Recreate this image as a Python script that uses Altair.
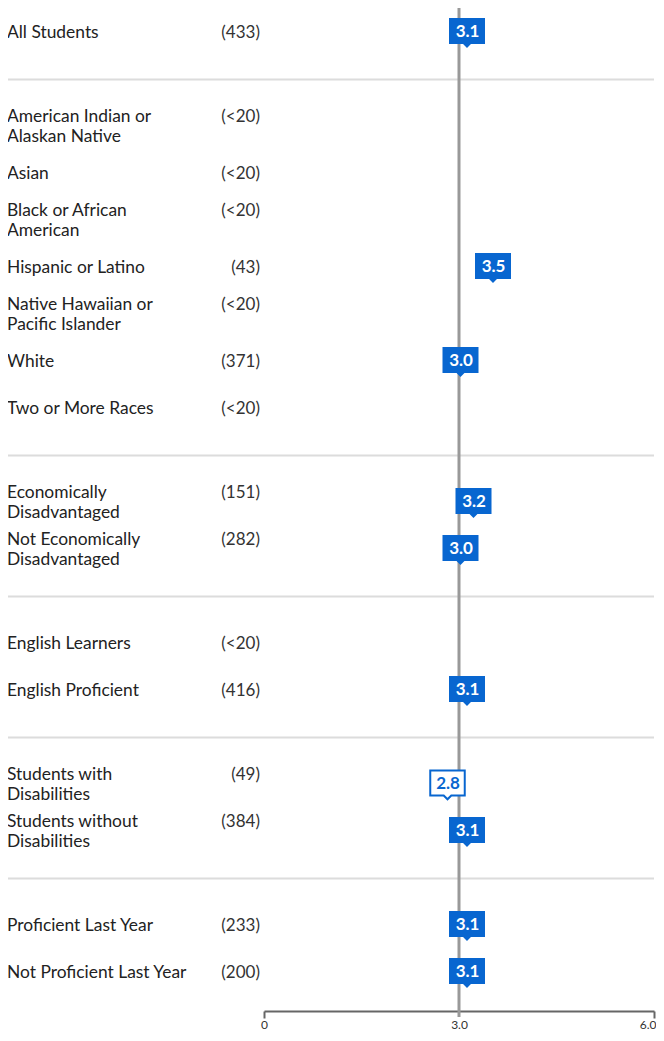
import altair as alt
import pandas as pd

# ---- data ----
labels = [
    "All Students",
    "American Indian or\nAlaskan Native",
    "Asian",
    "Black or African\nAmerican",
    "Hispanic or Latino",
    "Native Hawaiian or\nPacific Islander",
    "White",
    "Two or More Races",
    "Economically\nDisadvantaged",
    "Not Economically\nDisadvantaged",
    "English Learners",
    "English Proficient",
    "Students with\nDisabilities",
    "Students without\nDisabilities",
    "Proficient Last Year",
    "Not Proficient Last Year",
]
counts = ["433", "<20", "<20", "<20", "43", "<20", "371", "<20",
          "151", "282", "<20", "416", "49", "384", "233", "200"]
scores = [3.1, None, None, None, 3.5, None, 3.0, None,
          3.2, 3.0, None, 3.1, 2.8, 3.1, 3.1, 3.1]
outlined = [False, False, False, False, False, False, False, False,
            False, False, False, False, True, False, False, False]
group_sizes = [1, 7, 2, 2, 2, 2]
reference_value = [3.0]
axis_values = [0, 3, 6]

# ---- build row layout (groups separated by a gap row holding a rule) ----
rows, sep_rows = [], []
idx = 0
for gi, n in enumerate(group_sizes):
    if gi > 0:
        sep_rows.append(idx)
        idx += 1
    for _ in range(n):
        rows.append(idx)
        idx += 1

df = pd.DataFrame({
    "label": labels,
    "count_text": ["(" + c + ")" for c in counts],
    "nlines": [l.count("\n") + 1 for l in labels],
    "score": scores,
    "outlined": outlined,
    "row": rows,
})
df_scores = df.dropna(subset=["score"])
df_filled = df_scores[~df_scores["outlined"]]
df_out = df_scores[df_scores["outlined"]]

W, H = 390, 1003
ROW_PX = 47.0
LINE_H = 20
BLUE = "#0866d0"
FONT = "Lato"

yscale = alt.Scale(domain=[-0.4894, 20.851], reverse=True, nice=False, zero=False)
Y = alt.Y("row:Q", scale=yscale, axis=None)
YT = alt.Y("yt:Q", scale=yscale, axis=None)

xaxis = alt.Axis(
    values=axis_values, title=None, grid=False,
    domainColor="#666", domainWidth=2,
    tickColor="#666", tickWidth=2, tickSize=7,
    tickOpacity={"condition": {"test": "datum.value == 3", "value": 0}, "value": 1},
    labelFont=FONT, labelFontSize=12, labelColor="#333", labelPadding=1,
    labelFlush=False,
    labelAlign={"condition": {"test": "datum.value == 6", "value": "right"}, "value": "center"},
    labelOffset={"condition": {"test": "datum.value == 6", "value": 2}, "value": 0},
    labelExpr="datum.value == 0 ? '0' : format(datum.value, '.1f')",
)
X = alt.X("score:Q", scale=alt.Scale(domain=[0, 6], nice=False, zero=False), axis=xaxis)

# text blocks: first line sits half a block above the row centre
text_base = alt.Chart(df).transform_calculate(
    yt=f"datum.row - (datum.nlines - 1) * {LINE_H / 2 / ROW_PX}"
)

separators = alt.Chart(pd.DataFrame({"row": sep_rows})).mark_rule(
    color="#dcdcdc", strokeWidth=2, yOffset=1.5
).encode(y=Y, x=alt.value(-257), x2=alt.value(W))

ref_line = alt.Chart(pd.DataFrame({"score": reference_value})).mark_rule(
    color="#999999", strokeWidth=3
).encode(x=X, y=alt.value(0), y2=alt.value(H + 6))

label_text = text_base.mark_text(
    align="left", baseline="middle", font=FONT, fontSize=17.4, color="#222",
    lineBreak="\n", lineHeight=LINE_H, yOffset=1.5,
).encode(x=alt.value(-257), y=YT, text="label:N")

count_text = text_base.mark_text(
    align="right", baseline="middle", font=FONT, fontSize=17, color="#333",
    yOffset=1.5,
).encode(x=alt.value(-4), y=YT, text="count_text:N")

badge_path = "M-1,-0.72H1V0.72H0.22L0,0.94L-0.22,0.72H-1Z"

badges = alt.Chart(df_filled).mark_point(
    shape=badge_path, size=1296, filled=True, fill=BLUE, opacity=1,
    strokeWidth=0, xOffset=1.5,
).encode(x=X, y=Y)

badges_out = alt.Chart(df_out).mark_point(
    shape=badge_path, size=1190, filled=True, fill="white", opacity=1,
    stroke=BLUE, strokeWidth=2, xOffset=1.5,
).encode(x=X, y=Y)

badge_text = alt.Chart(df_filled).mark_text(
    font=FONT, fontSize=17, fontWeight="bold", color="white",
    baseline="middle", xOffset=2, yOffset=1,
).encode(x=X, y=Y, text=alt.Text("score:Q", format=".1f"))

badge_text_out = alt.Chart(df_out).mark_text(
    font=FONT, fontSize=17, fontWeight="bold", color=BLUE,
    baseline="middle", xOffset=2, yOffset=1,
).encode(x=X, y=Y, text=alt.Text("score:Q", format=".1f"))

chart = alt.layer(
    separators, ref_line, label_text, count_text,
    badges, badges_out, badge_text, badge_text_out,
).properties(
    width=W, height=H,
    autosize=alt.AutoSizeParams(type="none"),
    padding={"left": 256, "top": 0, "right": 2, "bottom": 22},
).configure(background="white").configure_view(stroke=None)

chart.save("out.html", embed_options={"renderer": "svg", "actions": False})
